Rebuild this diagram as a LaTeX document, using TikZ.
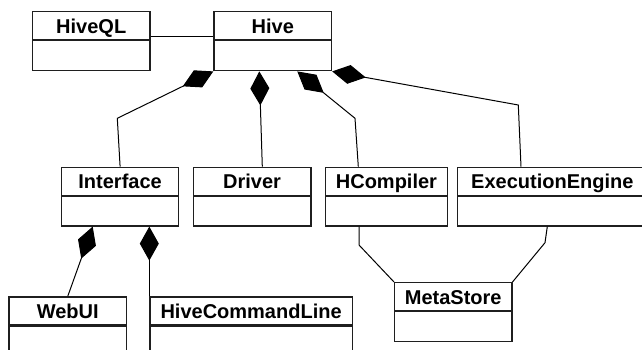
\documentclass[tikz,border=0pt]{standalone}
\usepackage{fontspec}
\setmainfont{Liberation Sans}
\usetikzlibrary{arrows.meta,calc}
\tikzset{
  boxline/.style={draw=black!88, line width=1.2pt},
  cname/.style={boxline, anchor=north west, inner sep=0pt, minimum height=28pt,
    text height=15pt, text depth=0pt, font=\bfseries\fontsize{20}{20}\selectfont},
  cbody/.style={boxline, anchor=north west, inner sep=0pt, minimum height=30pt},
  link/.style={draw=black, line width=1pt, line join=round},
  comp/.style={link, {Diamond[length=34pt,width=19pt]}-}
}
\newcommand\umlcls[6]{% name, x, y, width, label, body height
  \node[cname, minimum width=#4pt] (#1) at (#2,#3) {#5};
  \node[cbody, minimum width=#4pt, minimum height=#6pt] (#1B) at (#1.south west) {};
}
\begin{document}
\begin{tikzpicture}[x=1pt, y=-1pt]
  \useasboundingbox (0,0) rectangle (642,350);
  \clip (0,0) rectangle (642,350);
  \fill[white] (0,0) rectangle (642,350);

  \umlcls{hql}{32}{11}{117.3}{HiveQL}{30}
  \umlcls{hive}{213.3}{11}{117.7}{Hive}{30}
  \umlcls{ifc}{61}{166.7}{117}{Interface}{29.5}
  \umlcls{drv}{192.7}{166.7}{117.6}{Driver}{29.5}
  \umlcls{hc}{325}{166.7}{121.7}{HCompiler}{29.5}
  \umlcls{ee}{456.7}{166.7}{190}{ExecutionEngine\hspace{7.4pt}}{29.5}
  \umlcls{ms}{394}{282}{117.3}{MetaStore}{29.5}
  \umlcls{web}{8.3}{296.3}{117.7}{WebUI}{40}
  \umlcls{hcl}{149.3}{296.3}{202.4}{HiveCommandLine}{40}

  % HiveQL -- Hive
  \draw[link] ($(hql.south east)+(0,-4)$) -- ($(hive.south west)+(0,-4)$);

  % Hive compositions
  \coordinate (b1) at (117.3,118.3);
  \draw[comp] (hiveB.south west) -- (b1) -- (ifc.north);

  \coordinate (s2) at ($(hiveB.south west)+(46,0)$);
  \draw[comp] (s2) -- ($(drv.north)+(10.2,0)$);

  \coordinate (s3) at ($(hiveB.south west)+(84,0)$);
  \coordinate (b3) at (355,118.3);
  \draw[comp] (s3) -- (b3) -- ($(hc.north west)+(33.3,0)$);

  \coordinate (b4) at (518.3,105);
  \draw[comp] (hiveB.south east) -- (b4) -- ($(ee.north west)+(64.3,0)$);

  % Interface compositions
  \draw[comp] ($(ifcB.south west)+(31.7,0)$) -- (web.north);
  \draw[comp] ($(ifcB.south west)+(88.3,0)$) -- (hcl.north west);

  % MetaStore associations
  \coordinate (b7) at (359,245);
  \draw[link] ($(hcB.south west)+(34,0)$) -- (b7) -- (ms.north west);
  \coordinate (b8) at (545,242.7);
  \draw[link] ($(eeB.south west)+(90.6,0)$) -- (b8) -- (ms.north east);
\end{tikzpicture}
\end{document}
